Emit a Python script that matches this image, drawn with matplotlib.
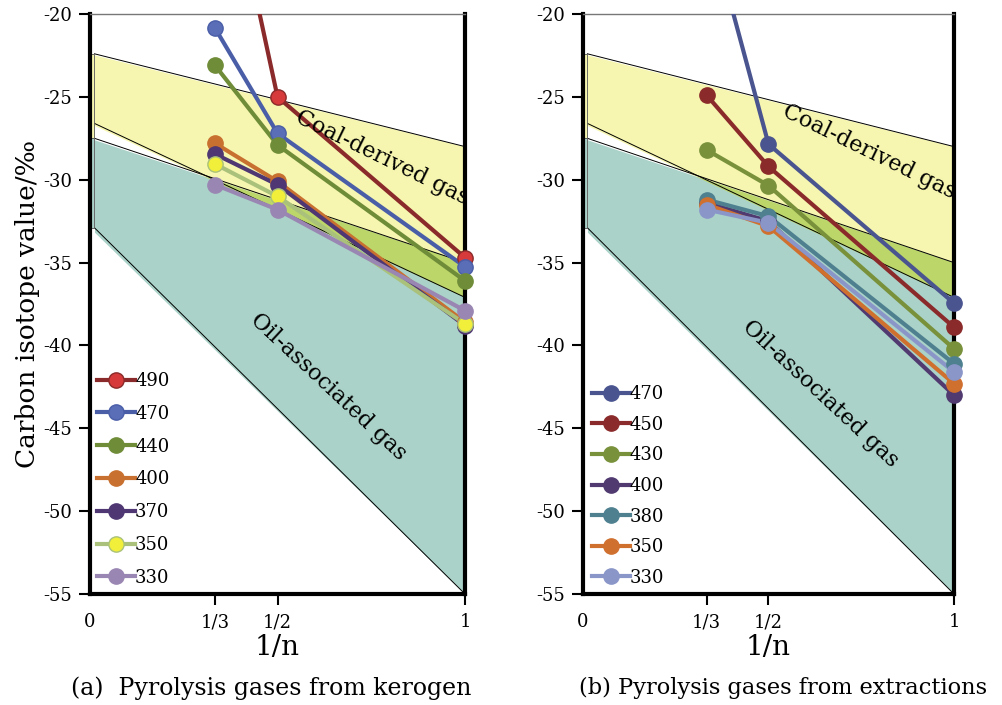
import numpy as np
import matplotlib.pyplot as plt
from matplotlib.lines import Line2D

plt.rcParams['font.family'] = ['DejaVu Serif']

# 1/n positions
x = np.array([1/3, 1/2, 1.0])

# (a) kerogen pyrolysis gases, carbon isotope value (per mil)
ker_labels = ['490', '470', '440', '400', '370', '350', '330']
ker_490 = [-7.5, -25.0, -34.7]
ker_470 = [-20.85, -27.2, -35.25]
ker_440 = [-23.1, -27.9, -36.1]
ker_400 = [-27.8, -30.1, -38.6]
ker_370 = [-28.45, -30.3, -38.8]
ker_350 = [-29.05, -31.0, -38.7]
ker_330 = [-30.3, -31.8, -37.9]
ker_vals = [ker_490, ker_470, ker_440, ker_400, ker_370, ker_350, ker_330]
ker_line = ['#8b2a2a', '#4a5ea8', '#6f8c38', '#c8702f', '#4e3772', '#a9c17a', '#9a86b2']
ker_face = ['#d63a3a', '#5a6eb8', '#6f8c38', '#c8702f', '#4e3772', '#f2ef3a', '#9a86b2']

# (b) extraction pyrolysis gases
ext_labels = ['470', '450', '430', '400', '380', '350', '330']
ext_470 = [-14.0, -27.85, -37.45]
ext_450 = [-24.9, -29.2, -38.9]
ext_430 = [-28.2, -30.35, -40.2]
ext_400 = [-31.4, -32.5, -43.0]
ext_380 = [-31.2, -32.2, -41.1]
ext_350 = [-31.5, -32.8, -42.3]
ext_330 = [-31.8, -32.6, -41.6]
ext_vals = [ext_470, ext_450, ext_430, ext_400, ext_380, ext_350, ext_330]
ext_line = ['#4a5590', '#8b2a2a', '#78913a', '#503a70', '#4e8090', '#d0702f', '#8a96c8']
ext_face = ext_line

# genetic zones: boundary lines (value at 1/n=0, value at 1/n=1)
coal_top = (-22.4, -28.0)
coal_bot = (-26.6, -37.1)
oil_top = (-27.5, -35.0)
oil_bot = (-32.9, -55.0)

C_YEL = '#f6f6b0'
C_TEAL = '#aad2c8'
C_GRN = '#bcd66a'

fig = plt.figure(figsize=(10.02, 7.05), dpi=100)
ax1 = fig.add_axes([0.0898, 0.1574, 0.3743, 0.8227])
ax2 = fig.add_axes([0.5818, 0.1574, 0.3703, 0.8227])


def line(b, xx):
    return b[0] + (b[1] - b[0]) * xx


def draw_zones(ax):
    x0 = 0.012
    xx = np.linspace(x0, 1, 200)
    ax.fill_between(xx, line(coal_top, xx), line(coal_bot, xx), color=C_YEL, lw=0, zorder=1)
    ax.fill_between(xx, line(oil_top, xx), line(oil_bot, xx), color=C_TEAL, lw=0, zorder=1)
    ov_top = np.minimum(line(coal_top, xx), line(oil_top, xx))
    ov_bot = np.maximum(line(coal_bot, xx), line(oil_bot, xx))
    ax.fill_between(xx, ov_top, ov_bot, where=ov_top > ov_bot, color=C_GRN, lw=0, zorder=1)
    for b in (coal_top, coal_bot, oil_top, oil_bot):
        ax.plot([x0, 1], b, color='black', lw=0.7, zorder=2)
    # small strip at 1/n = 0
    ax.fill_between([0, x0], coal_top[0], oil_top[0], color=C_YEL, ec='#555555', lw=0.6, zorder=2)
    ax.fill_between([0, x0], oil_top[0], oil_bot[0], color=C_TEAL, ec='#555555', lw=0.6, zorder=2)


def draw_series(ax, vals, labels, lcol, fcol, lspace, lx):
    handles = []
    for v, lab, lc, fc in zip(vals, labels, lcol, fcol):
        v = np.array(v)
        ax.plot(x, v, '-', color=lc, lw=3, zorder=4)
        vis = v <= -20
        ax.plot(x[vis], v[vis], 'o', ms=11, mfc=fc, mec=lc, mew=1, zorder=5, clip_on=False)
        handles.append(Line2D([], [], color=lc, lw=3, marker='o', ms=11, mfc=fc, mec=lc))
    ax.legend(handles, labels, loc='lower left', frameon=False, fontsize=13,
              handlelength=2.1, handletextpad=0.0, labelspacing=lspace,
              borderaxespad=0.0, bbox_to_anchor=(lx, 0.0))


def style(ax):
    ax.set_xlim(0, 1)
    ax.set_ylim(-55, -20)
    ax.set_yticks(np.arange(-55, -19, 5))
    ax.set_yticklabels([str(t) for t in np.arange(-55, -19, 5)])
    ax.set_xticks([0, 1/3, 1/2, 1])
    ax.set_xticklabels(['0', '1/3', '1/2', '1'])
    ax.xaxis.get_major_ticks()[0].tick1line.set_visible(False)
    ax.tick_params(axis='both', direction='out', length=8, width=1.5, labelsize=13, pad=5)
    ax.tick_params(axis='x', pad=6)
    for s in ('left', 'right', 'bottom'):
        ax.spines[s].set_linewidth(3)
    ax.spines['top'].set_linewidth(1)
    ax.spines['top'].set_color('#777777')
    ax.set_xlabel('1/n', fontsize=20, labelpad=2)


for ax in (ax1, ax2):
    draw_zones(ax)
    style(ax)

draw_series(ax1, ker_vals, ker_labels, ker_line, ker_face, 0.82, 0.0)
draw_series(ax2, ext_vals, ext_labels, ext_line, ext_face, 0.70, 0.005)

ax1.set_ylabel('Carbon isotope value/‰', fontsize=19, labelpad=2)

ax1.text(0.78, -28.7, 'Coal-derived gas', rotation=-26, fontsize=16,
         ha='center', va='center', zorder=6, clip_on=True)
ax2.text(0.77, -28.3, 'Coal-derived gas', rotation=-26, fontsize=16,
         ha='center', va='center', zorder=6, clip_on=True)
ax1.text(0.635, -42.5, 'Oil-associated gas', rotation=-43, fontsize=16,
         ha='center', va='center', zorder=3)
ax2.text(0.64, -42.9, 'Oil-associated gas', rotation=-43, fontsize=16,
         ha='center', va='center', zorder=3)

fig.text(0.271, 0.024, '(a)  Pyrolysis gases from kerogen', fontsize=17, ha='center', va='center')
fig.text(0.578, 0.024, '(b) Pyrolysis gases from extractions', fontsize=16.2, ha='left', va='center')

fig.savefig('out.png', dpi=100)
